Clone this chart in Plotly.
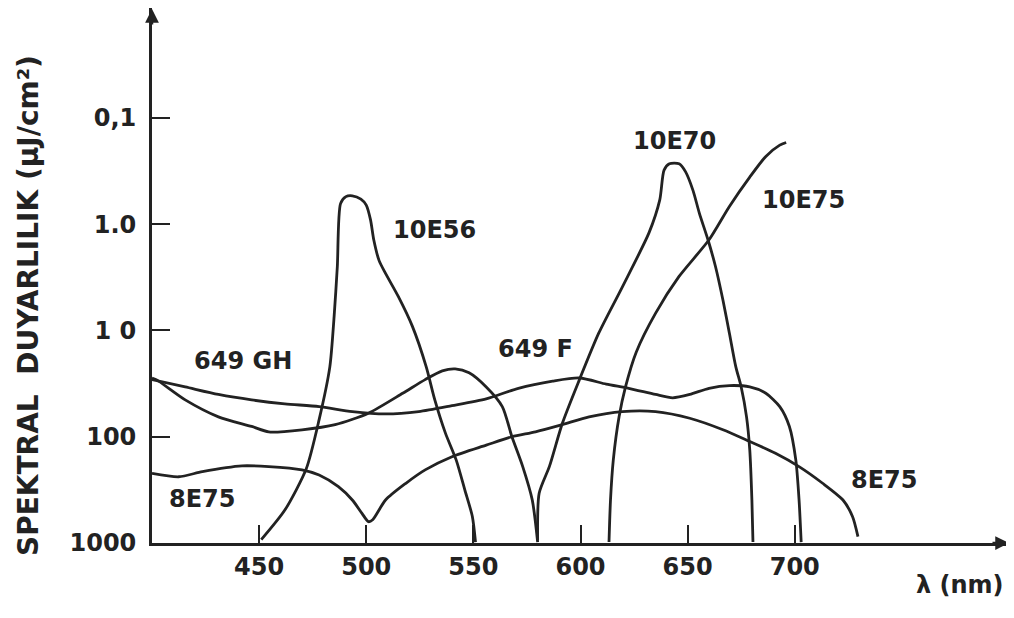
import numpy as np
import plotly.graph_objects as go

# ---- data (wavelength nm, spectral sensitivity) ----
wl_10E56 = [451, 462, 472, 478, 483, 485, 486.5, 488, 490.5, 493.5, 497.5, 500, 502, 503.5,
            506, 509, 515, 521.5, 528, 532, 537, 542, 546, 549.5, 551]
v_10E56 = [930, 490, 200, 69, 22, 7.4, 2.5, 0.64, 0.55, 0.54, 0.58, 0.66, 0.91, 1.4,
           2.2, 2.9, 4.8, 9.1, 22, 45, 93, 166, 316, 560, 980]

wl_649GH = [400, 402, 415.5, 431, 446.5, 454.5, 470, 485.5, 501, 517, 527.5, 535.5, 541.5,
            548, 556, 563.5, 568, 573, 577.5, 580]
v_649GH = [28, 29, 45, 65, 80, 90, 86, 77, 60, 39, 29, 24, 23, 25, 34, 52, 100, 190, 395, 980]

wl_649F = [400, 415.5, 431, 446.5, 462, 478, 493.5, 509, 524.5, 540, 556, 571, 587, 599.5,
           612, 622.5, 635, 643, 651, 660, 669.5, 679, 686.5, 693, 697.5, 700.5, 702, 703]
v_649F = [29, 34, 40, 45, 49, 52, 58, 61, 58, 51, 44, 35, 30, 28, 32, 35, 40, 43, 40, 35,
          33, 34, 39, 52, 80, 166, 390, 980]

wl_8E75 = [400, 412.5, 423.5, 442, 454.5, 470, 478, 487, 493.5, 498, 501, 503, 509, 518.5,
           527.5, 540, 556, 568, 579, 591.5, 604, 619.5, 635, 651, 666.5, 679, 691, 702, 713,
           722.5, 727, 729.5]
v_8E75 = [221, 238, 213, 188, 191, 205, 229, 295, 394, 526, 630, 605, 394, 274, 205, 154,
          120, 100, 90, 77, 65, 58, 58, 67, 86, 111, 143, 191, 274, 394, 566, 870]

wl_10E70 = [580, 580.7, 585.5, 591.5, 599.5, 608.5, 619.5, 632, 637, 639, 641.5, 646, 649,
            652.5, 655.5, 659.5, 663, 666.5, 669.5, 672.5, 675, 677.5, 679, 680, 680.5]
v_10E70 = [940, 340, 190, 75, 29, 10.6, 3.9, 1.2, 0.59, 0.31, 0.27, 0.27, 0.32, 0.48, 0.79,
           1.4, 2.5, 5.2, 10.6, 22, 34, 65, 133, 394, 980]

wl_10E75 = [613.3, 614, 615.3, 618, 621, 626, 635, 646, 660, 669.5, 679, 686.5, 693, 696]
v_10E75 = [980, 394, 166, 65, 34, 16, 6.9, 3.1, 1.4, 0.68, 0.36, 0.23, 0.18, 0.17]

# curve labels: text, wavelength, sensitivity
label_text = ["10E56", "649 GH", "8E75", "649 F", "10E70", "10E75", "8E75"]
label_wl = [532, 442.5, 423.5, 579, 644, 704, 742]
label_val = [1.13, 19.4, 385, 15, 0.165, 0.59, 257]

x_ticks = [450, 500, 550, 600, 650, 700]
y_ticks = [0.1, 1, 10, 100, 1000]
y_ticktext = ["0,1", "1.0", "1 0", "100", "1000"]

INK = "#222222"
FONT = "DejaVu Sans, sans-serif"

fig = go.Figure()
curves = [(wl_10E56, v_10E56, "10E56"), (wl_649GH, v_649GH, "649 GH"),
          (wl_649F, v_649F, "649 F"), (wl_8E75, v_8E75, "8E75"),
          (wl_10E70, v_10E70, "10E70"), (wl_10E75, v_10E75, "10E75")]
for wl, v, name in curves:
    fig.add_trace(go.Scatter(x=wl, y=v, mode="lines", name=name,
                             line=dict(color=INK, width=2.8, shape="spline", smoothing=0.7),
                             hoverinfo="x+y+name"))

annotations = []
for t, xw, yv in zip(label_text, label_wl, label_val):
    annotations.append(dict(x=xw, y=np.log10(yv), xref="x", yref="y", text="<b>%s</b>" % t,
                            showarrow=False, xanchor="center", yanchor="middle",
                            font=dict(family=FONT, size=24, color=INK)))

# axis titles
annotations.append(dict(xref="paper", yref="paper", x=-0.1435, y=0.443,
                        xanchor="center", yanchor="middle",
                        text="<b>SPEKTRAL  DUYARLILIK (μJ/cm²)</b>", textangle=-90,
                        showarrow=False, font=dict(family=FONT, size=28, color=INK)))
annotations.append(dict(xref="paper", yref="paper", x=0.943, y=-0.0785,
                        xanchor="center", yanchor="middle",
                        text="<b>λ (nm)</b>", showarrow=False,
                        font=dict(family=FONT, size=24, color=INK)))
# axis arrowheads
annotations.append(dict(xref="paper", yref="paper", x=1.0, y=0.0, ax=-18, ay=0,
                        text="", showarrow=True, arrowhead=2, arrowsize=1.1,
                        arrowwidth=2.5, arrowcolor=INK, standoff=0))
annotations.append(dict(xref="paper", yref="paper", x=0.0, y=1.0, ax=0, ay=18,
                        text="", showarrow=True, arrowhead=2, arrowsize=1.1,
                        arrowwidth=2.5, arrowcolor=INK, standoff=0))

fig.update_layout(
    width=1014, height=618,
    margin=dict(l=144, r=13, t=0, b=83),
    paper_bgcolor="white", plot_bgcolor="white",
    showlegend=False,
    annotations=annotations,
    xaxis=dict(range=[400, 800], tickvals=x_ticks, ticks="inside", ticklen=18,
               tickwidth=2, tickcolor=INK, showline=True, linewidth=2.8, linecolor=INK,
               showgrid=False, zeroline=False, ticklabelstandoff=0,
               tickfont=dict(family=FONT, size=24, color=INK, weight="bold")),
    yaxis=dict(type="log", range=[3, -2.035], tickvals=y_ticks, ticktext=y_ticktext,
               ticks="inside", ticklen=18, tickwidth=2, tickcolor=INK,
               showline=True, linewidth=2.8, linecolor=INK, showgrid=False,
               zeroline=False, ticklabelstandoff=8,
               tickfont=dict(family=FONT, size=24, color=INK, weight="bold")),
)

fig.write_html("out.html")
